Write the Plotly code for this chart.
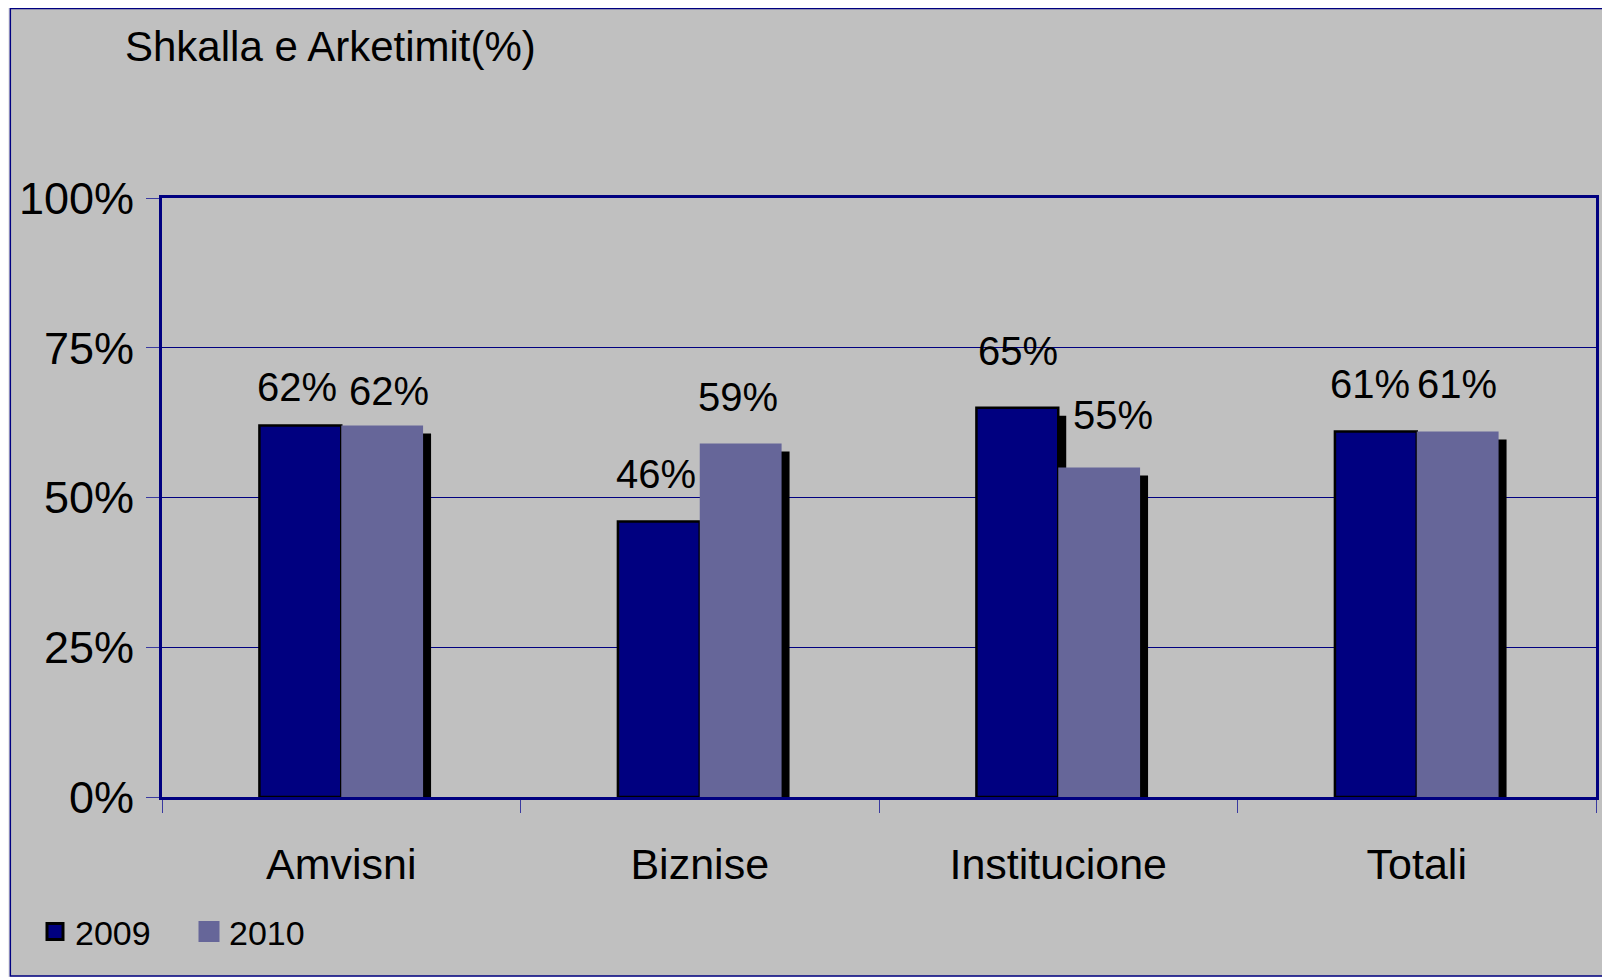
import plotly.graph_objects as go

categories = ["Amvisni", "Biznise", "Institucione", "Totali"]
years = ["2009", "2010"]
values_2009 = [62, 46, 65, 61]
values_2010 = [62, 59, 55, 61]
y_ticks = [0, 25, 50, 75, 100]
y_tick_text = ["0%", "25%", "50%", "75%", "100%"]

# label nudges in px (dx, dy above bar top) to copy the Excel placement
nudge_2009 = [(-3, 39), (-3, 47), (1, 57), (-6, 48)]
nudge_2010 = [(7, 35), (-3, 47), (14, 53), (-1, 48)]

# page body has an 8px margin, so the figure is drawn 8px in
W, H = 1602, 969
ML, MR, MT, MB = 154, 11, 190, 180
plot_w = W - ML - MR
plot_h = H - MT - MB

NAVY = "#000080"
LAV = "#666699"
FONT = "Liberation Sans, Arial, sans-serif"

bar_w = 82 / (plot_w / 4)          # bar width in category units
sh_dx = 8 / (plot_w / 4)           # shadow offset, category units
sh_dy = 8 / plot_h * 100           # shadow offset, % units

fig = go.Figure()

# drop shadows
for vals, off in [(values_2009, -bar_w), (values_2010, 0)]:
    fig.add_trace(go.Bar(
        x=categories, y=[v - sh_dy for v in vals],
        width=bar_w, offset=off + sh_dx,
        marker=dict(color="black", line=dict(width=0)),
        showlegend=False, hoverinfo="skip"))

fig.add_trace(go.Bar(
    x=categories, y=values_2009, name=years[0],
    width=bar_w, offset=-bar_w,
    marker=dict(color=NAVY, line=dict(color="black", width=2.5)),
    showlegend=False))
fig.add_trace(go.Bar(
    x=categories, y=values_2010, name=years[1],
    width=bar_w, offset=0,
    marker=dict(color=LAV, line=dict(width=0)),
    showlegend=False))

# legend entries
fig.add_trace(go.Scatter(x=[None], y=[None], mode="markers", name=years[0],
                         marker=dict(symbol="square", size=16, color=NAVY,
                                     line=dict(color="black", width=3))))
fig.add_trace(go.Scatter(x=[None], y=[None], mode="markers", name=years[1],
                         marker=dict(symbol="square", size=16, color=LAV,
                                     line=dict(color=LAV, width=5))))

for i, c in enumerate(categories):
    for vals, nud, side in [(values_2009, nudge_2009, -1), (values_2010, nudge_2010, 1)]:
        dx, dy = nud[i]
        fig.add_annotation(x=c, y=vals[i], text=f"{vals[i]}%", showarrow=False,
                           xshift=side * 41 + dx, yshift=dy,
                           yanchor="middle", xanchor="center",
                           font=dict(size=40, color="black", family=FONT))

# outer chart frame
fig.add_shape(type="rect", xref="paper", yref="paper",
              x0=(2 - ML) / plot_w, x1=(W + 10 - ML) / plot_w,
              y0=(H - MB - 968) / plot_h, y1=(H - MB - 0.5) / plot_h,
              fillcolor="#c0c0c0", line=dict(color=NAVY, width=1.5), layer="below")

fig.update_layout(
    width=W, height=H,
    margin=dict(l=ML, r=MR, t=MT, b=MB),
    paper_bgcolor="#ebebeb",
    plot_bgcolor="rgba(0,0,0,0)",
    barmode="overlay",
    font=dict(family=FONT, color="black"),
    title=dict(text="Shkalla e Arketimit(%)", x=117 / W, xanchor="left",
               y=1 - 38 / H, yanchor="middle", font=dict(size=42)),
    legend=dict(orientation="h", xref="container", yref="container",
                x=27 / W, y=1 - 924 / H, xanchor="left", yanchor="middle",
                font=dict(size=34), bgcolor="rgba(0,0,0,0)",
                entrywidth=109, entrywidthmode="pixels"),
    xaxis=dict(type="category", tickson="boundaries", ticks="outside",
               ticklen=13, tickcolor="#3a3aa0", tickwidth=1,
               showline=True, linecolor=NAVY, linewidth=3, mirror=True,
               showgrid=False, tickfont=dict(size=43), ticklabelstandoff=27),
    yaxis=dict(range=[0, 100], tickmode="array", tickvals=y_ticks,
               ticktext=y_tick_text,
               ticks="outside", ticklen=13, tickcolor="#3a3aa0", tickwidth=1,
               showline=True, linecolor=NAVY, linewidth=3, mirror=True,
               showgrid=True, gridcolor=NAVY, gridwidth=1, zeroline=False,
               tickfont=dict(size=45), ticklabelstandoff=3),
)

fig.write_html("out.html")
